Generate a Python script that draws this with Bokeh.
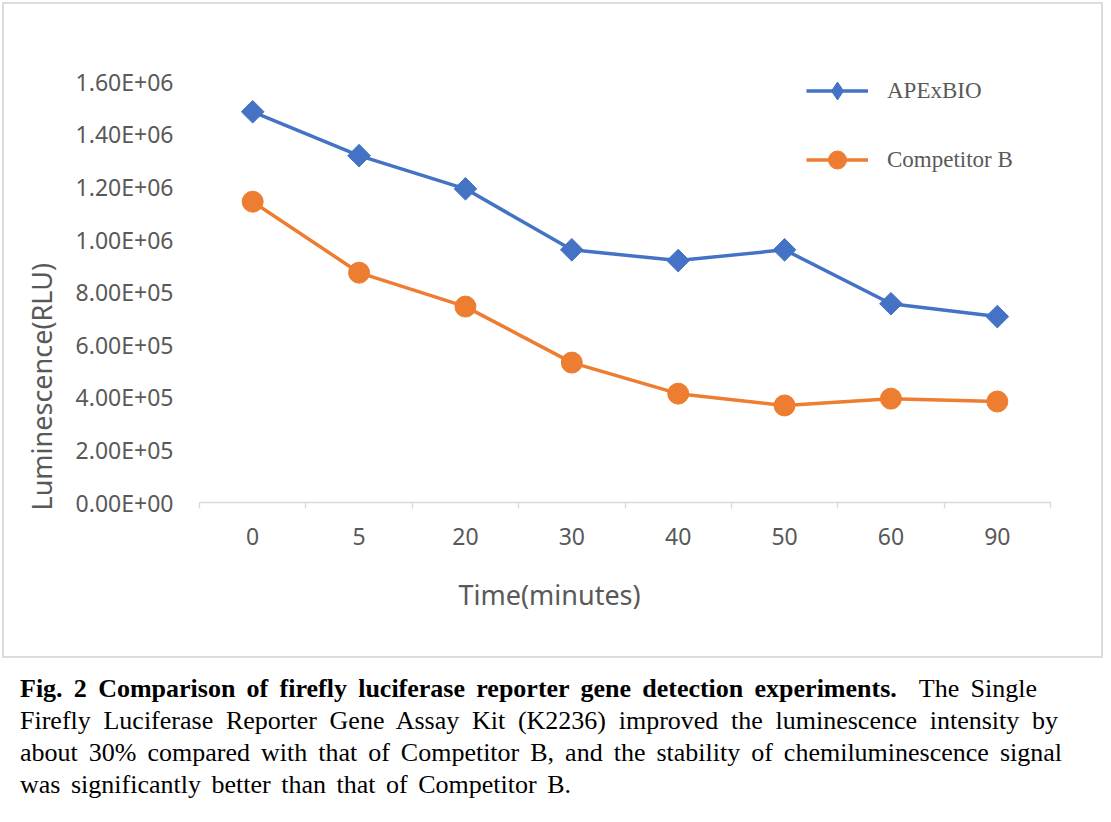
import numpy as np
from bokeh.plotting import figure
from bokeh.models import (Range1d, FixedTicker, Legend, LegendItem, Title, Div)
from bokeh.layouts import column
from bokeh.embed import file_html
from bokeh.resources import INLINE

# ---- data ----
time_labels = ["0", "5", "20", "30", "40", "50", "60", "90"]
apexbio = [1.486e6, 1.319e6, 1.193e6, 0.961e6, 0.920e6, 0.961e6, 0.756e6, 0.707e6]
competitor_b = [1.144e6, 0.874e6, 0.745e6, 0.532e6, 0.414e6, 0.369e6, 0.395e6, 0.384e6]
y_ticks = [0, 2e5, 4e5, 6e5, 8e5, 1.0e6, 1.2e6, 1.4e6, 1.6e6]
y_tick_labels = ["0.00E+00", "2.00E+05", "4.00E+05", "6.00E+05", "8.00E+05",
                 "1.00E+06", "1.20E+06", "1.40E+06", "1.60E+06"]
caption_bold = "Fig. 2 Comparison of firefly luciferase reporter gene detection experiments."
caption_lines = [
    "The Single",
    "Firefly Luciferase Reporter Gene Assay Kit (K2236) improved the luminescence intensity by",
    "about 30% compared with that of Competitor B, and the stability of chemiluminescence signal",
    "was significantly better than that of Competitor B.",
]

BLUE = "#4472C4"
ORANGE = "#ED7D31"
GRAY = "#595959"
LIGHT = "#d9d9d9"
SANS = "Noto Sans"
SERIF = "Liberation Serif"

n = len(time_labels)
xc = np.arange(n) + 0.5
bounds = list(np.arange(n + 1).astype(float))

p = figure(width=1101, height=656, x_range=Range1d(0, n), y_range=Range1d(0, 1.7e6),
           output_backend="svg", toolbar_location=None,
           min_border_left=195, min_border_right=55, min_border_top=51, min_border_bottom=158)
p.outline_line_color = None
p.grid.visible = False
p.background_fill_color = "white"
p.border_fill_color = "white"
p.styles = {"border": "2px solid #dcdcdc"}
p.margin = (2, 0, 0, 2)

# x axis
xa = p.xaxis[0]
xa.ticker = FixedTicker(ticks=list(xc), minor_ticks=bounds)
xa.major_label_overrides = {float(v): t for v, t in zip(xc, time_labels)}
xa.axis_line_color = LIGHT
xa.axis_line_width = 1.3
xa.major_tick_line_color = None
xa.minor_tick_line_color = LIGHT
xa.minor_tick_line_width = 1.3
xa.minor_tick_out = 6
xa.minor_tick_in = 0
xa.major_label_standoff = 19
xa.major_label_text_font = SANS
xa.major_label_text_font_size = "23px"
xa.major_label_text_color = GRAY

# y axis
ya = p.yaxis[0]
ya.ticker = FixedTicker(ticks=y_ticks)
ya.major_label_overrides = {float(v): t for v, t in zip(y_ticks, y_tick_labels)}
ya.axis_line_color = None
ya.major_tick_line_color = None
ya.minor_tick_line_color = None
ya.major_label_standoff = 20
ya.major_label_text_font = SANS
ya.major_label_text_font_size = "23px"
ya.major_label_text_color = GRAY

# series (a narrow diamond hidden under each rotated-square marker gives the legend its diamond)
l1 = p.line(xc, apexbio, line_color=BLUE, line_width=3.5)
d1 = p.scatter(xc, apexbio, marker="diamond", size=14, fill_color=BLUE, line_color=BLUE)
s1 = p.scatter(xc, apexbio, marker="square", angle=np.pi / 4, size=16,
               fill_color=BLUE, line_color=BLUE)
l2 = p.line(xc, competitor_b, line_color=ORANGE, line_width=3.5)
s2 = p.scatter(xc, competitor_b, marker="circle", size=21,
               fill_color=ORANGE, line_color=ORANGE)

legend = Legend(items=[LegendItem(label="APExBIO", renderers=[l1, d1]),
                       LegendItem(label="Competitor B", renderers=[l2, s2])],
                location=(607, 320), orientation="vertical",
                glyph_width=62, glyph_height=45, label_height=20, label_standoff=19,
                spacing=24, padding=0, margin=0,
                border_line_color=None, background_fill_alpha=0,
                label_text_font=SERIF, label_text_font_size="23px", label_text_color=GRAY)
p.add_layout(legend)

# axis titles
p.add_layout(Title(text="Luminescence(RLU)", align="left", offset=-8, standoff=25,
                   text_font=SANS, text_font_size="27px", text_font_style="normal",
                   text_color=GRAY), "left")
p.add_layout(Title(text="Time(minutes)", align="left", offset=259, standoff=53,
                   text_font=SANS, text_font_size="27px", text_font_style="normal",
                   text_color=GRAY), "below")

# caption (justified lines like the original figure legend)
line_widths = [1017, 1038, 1042, 551]
line_style = "display:block;text-align:justify;text-align-last:justify;width:{}px;height:32px;"
cap_html = (
    '<div style="font-family:\'Liberation Serif\',\'Times New Roman\',serif;font-size:26px;'
    'line-height:32px;color:#000;">'
    f'<div style="{line_style.format(line_widths[0])}"><b>{caption_bold}</b>&nbsp; {caption_lines[0]}</div>'
    + "".join(f'<div style="{line_style.format(w)}">{t}</div>'
              for t, w in zip(caption_lines[1:], line_widths[1:]))
    + "</div>"
)
cap = Div(text=cap_html, width=1080, height=140, margin=(15, 0, 0, 20))

layout = column(p, cap, spacing=0)
open("out.html", "w").write(file_html(layout, INLINE))
